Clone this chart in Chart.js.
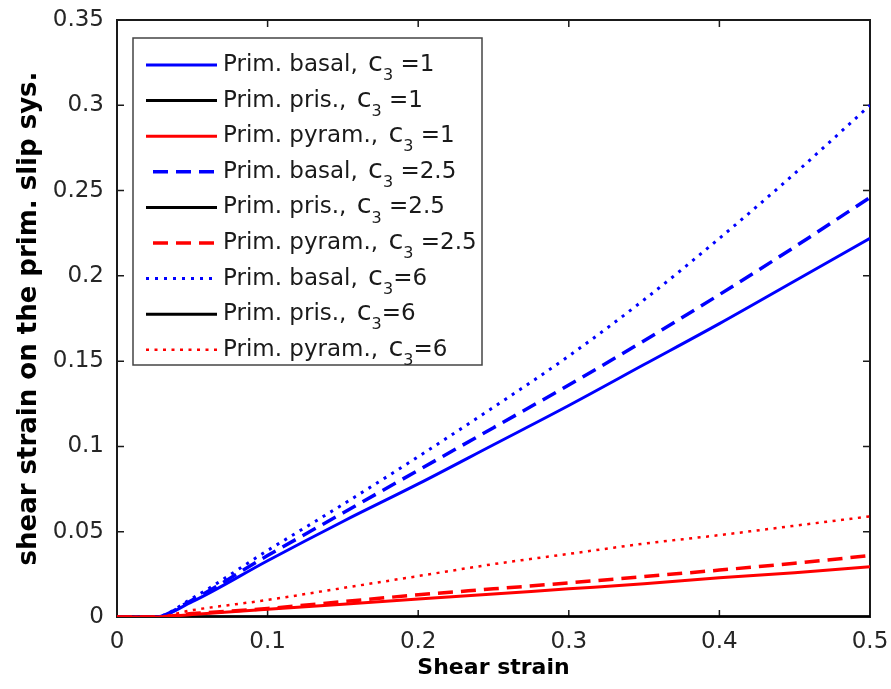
<!DOCTYPE html>
<html><head><meta charset="utf-8">
<script src="https://cdn.jsdelivr.net/npm/chart.js@4/dist/chart.umd.min.js"></script>
<style>html,body{margin:0;padding:0;background:#fff;}</style>
</head><body>
<canvas id="c" width="891" height="689" style="display:block"></canvas>
<script>
// ---- data ----
const strain   = [0, 0.025, 0.05, 0.1, 0.15, 0.2, 0.25, 0.3, 0.35, 0.4, 0.45, 0.5];
const basalC1  = [0, 0, 0.009, 0.033, 0.056, 0.078, 0.101, 0.124, 0.148, 0.172, 0.197, 0.222];
const prisC1   = [0, 0, 0, 0, 0, 0, 0, 0, 0, 0, 0, 0];
const pyramC1  = [0, 0, 0.0015, 0.0045, 0.0075, 0.0105, 0.0135, 0.0165, 0.0195, 0.023, 0.026, 0.0295];
const basalC25 = [0, 0, 0.010, 0.036, 0.061, 0.086, 0.111, 0.136, 0.162, 0.189, 0.217, 0.246];
const prisC25  = [0, 0, 0, 0, 0, 0, 0, 0, 0, 0, 0, 0];
const pyramC25 = [0, 0, 0.002, 0.005, 0.009, 0.013, 0.0165, 0.020, 0.0237, 0.0275, 0.0315, 0.036];
const basalC6  = [0, 0, 0.011, 0.039, 0.066, 0.094, 0.123, 0.153, 0.186, 0.222, 0.260, 0.300];
const prisC6   = [0, 0, 0, 0, 0, 0, 0, 0, 0, 0, 0, 0];
const pyramC6  = [0, 0, 0.004, 0.010, 0.017, 0.024, 0.031, 0.037, 0.043, 0.048, 0.0535, 0.059];

const seriesNames = ['Prim. basal,', 'Prim. pris.,', 'Prim. pyram.,',
                     'Prim. basal,', 'Prim. pris.,', 'Prim. pyram.,',
                     'Prim. basal,', 'Prim. pris.,', 'Prim. pyram.,'];
const c3Labels = [' =1', ' =1', ' =1', ' =2.5', ' =2.5', ' =2.5', '=6', '=6', '=6'];
const xTicks = [0, 0.1, 0.2, 0.3, 0.4, 0.5];
const yTicks = [0, 0.05, 0.1, 0.15, 0.2, 0.25, 0.3, 0.35];
const xTitle = 'Shear strain';
const yTitle = 'shear strain on the prim. slip sys.';

// ---- styles ----
const BLUE = '#0000ff', RED = '#ff0000', BLACK = '#000000';
const DASH = [15, 8], DOT = [3, 6];
const seriesValues = [basalC1, prisC1, pyramC1, basalC25, prisC25, pyramC25, basalC6, prisC6, pyramC6];
const styles = [
  {c: BLUE, d: [], w: 3, o: 2}, {c: BLACK, d: [], w: 3, o: 3}, {c: RED, d: [], w: 3, o: 1},
  {c: BLUE, d: DASH, w: 3.5, o: 2}, {c: BLACK, d: [], w: 3, o: 3}, {c: RED, d: DASH, w: 3.5, o: 1},
  {c: BLUE, d: DOT, w: 3, o: 2}, {c: BLACK, d: [], w: 3, o: 3}, {c: RED, d: [3, 5.5], w: 2.5, o: 1}
];

const datasets = seriesValues.map((vals, i) => ({
  label: seriesNames[i] + ' c3' + c3Labels[i],
  data: strain.map((x, k) => ({x: x, y: vals[k]})),
  borderColor: styles[i].c,
  backgroundColor: styles[i].c,
  borderDash: styles[i].d,
  borderWidth: styles[i].w,
  borderCapStyle: 'butt',
  pointRadius: 0,
  cubicInterpolationMode: 'monotone',
  fill: false,
  order: styles[i].o
}));

const FONT = '"DejaVu Sans", "Liberation Sans", sans-serif';

const framePlugin = {
  id: 'frame',
  beforeDatasetsDraw(chart) {
    const {ctx, chartArea: a, scales} = chart;
    ctx.save();
    ctx.strokeStyle = '#1a1a1a';
    ctx.lineWidth = 2;
    ctx.strokeRect(a.left, a.top, a.right - a.left, a.bottom - a.top);
    const L = 7;
    ctx.lineWidth = 1.5;
    ctx.beginPath();
    xTicks.forEach(v => {
      const px = scales.x.getPixelForValue(v);
      ctx.moveTo(px, a.bottom); ctx.lineTo(px, a.bottom - L);
      ctx.moveTo(px, a.top); ctx.lineTo(px, a.top + L);
    });
    yTicks.forEach(v => {
      const py = scales.y.getPixelForValue(v);
      ctx.moveTo(a.left, py); ctx.lineTo(a.left + L, py);
      ctx.moveTo(a.right, py); ctx.lineTo(a.right - L, py);
    });
    ctx.stroke();
    ctx.restore();
  },
  afterDatasetsDraw(chart) {
    const {ctx, chartArea: a} = chart;
    ctx.save();
    // legend box
    const bx = a.left + 16, by = a.top + 18, bw = 349, bh = 327;
    ctx.fillStyle = '#fff';
    ctx.fillRect(bx, by, bw, bh);
    ctx.strokeStyle = '#444';
    ctx.lineWidth = 1.5;
    ctx.strokeRect(bx, by, bw, bh);
    const rowH = 35.6;
    chart.data.datasets.forEach((ds, i) => {
      const y = by + 27 + i * rowH;
      ctx.save();
      ctx.strokeStyle = ds.borderColor;
      ctx.lineWidth = ds.borderWidth;
      ctx.setLineDash(ds.borderDash);
      ctx.lineCap = 'butt';
      ctx.beginPath();
      const x0 = ds.borderDash.length && ds.borderDash[0] > 5 ? bx + 20 : bx + 13;
      ctx.moveTo(x0, y); ctx.lineTo(bx + 84, y);
      ctx.stroke();
      ctx.restore();
      let tx = bx + 90;
      ctx.fillStyle = '#1a1a1a';
      ctx.textBaseline = 'middle';
      ctx.font = '23px ' + FONT;
      const nm = seriesNames[i];
      ctx.fillText(nm, tx, y);
      tx += ctx.measureText(nm + ' ').width + 3;
      ctx.font = '27px ' + FONT;
      ctx.fillText('c', tx, y - 1);
      tx += ctx.measureText('c').width;
      ctx.font = '16px ' + FONT;
      ctx.fillText('3', tx, y + 11);
      tx += ctx.measureText('3').width;
      ctx.font = '23px ' + FONT;
      ctx.fillText(c3Labels[i], tx, y);
    });
    ctx.restore();
  }
};

new Chart(document.getElementById('c'), {
  type: 'line',
  data: {datasets},
  options: {
    responsive: false,
    animation: false,
    devicePixelRatio: 1,
    layout: {padding: {top: 20, right: 21, left: 0, bottom: 0}},
    plugins: {legend: {display: false}, tooltip: {enabled: false}},
    scales: {
      x: {
        type: 'linear', min: 0, max: 0.5,
        afterFit: s => { s.height = 72; s.paddingLeft = 0; s.paddingRight = 0; },
        afterBuildTicks: s => { s.ticks = xTicks.map(v => ({value: v})); },
        grid: {display: false, drawTicks: false},
        border: {display: false},
        ticks: {padding: 11, color: '#262626', font: {family: FONT, size: 23},
                callback: v => String(+v.toFixed(2))},
        title: {display: true, text: xTitle, color: '#000',
                font: {family: FONT, size: 22, weight: 'bold'}, padding: {top: 0, bottom: 8}}
      },
      y: {
        type: 'linear', min: 0, max: 0.35,
        afterFit: s => { s.width = 117; s.paddingTop = 0; s.paddingBottom = 0; },
        afterBuildTicks: s => { s.ticks = yTicks.map(v => ({value: v})); },
        grid: {display: false, drawTicks: false},
        border: {display: false},
        ticks: {padding: 13, color: '#262626', font: {family: FONT, size: 23},
                callback: v => String(+v.toFixed(2))},
        title: {display: true, text: yTitle, color: '#000',
                font: {family: FONT, size: 26, weight: 'bold'}, padding: {top: 14, bottom: 0}}
      }
    }
  },
  plugins: [framePlugin]
});
</script>
</body></html>
